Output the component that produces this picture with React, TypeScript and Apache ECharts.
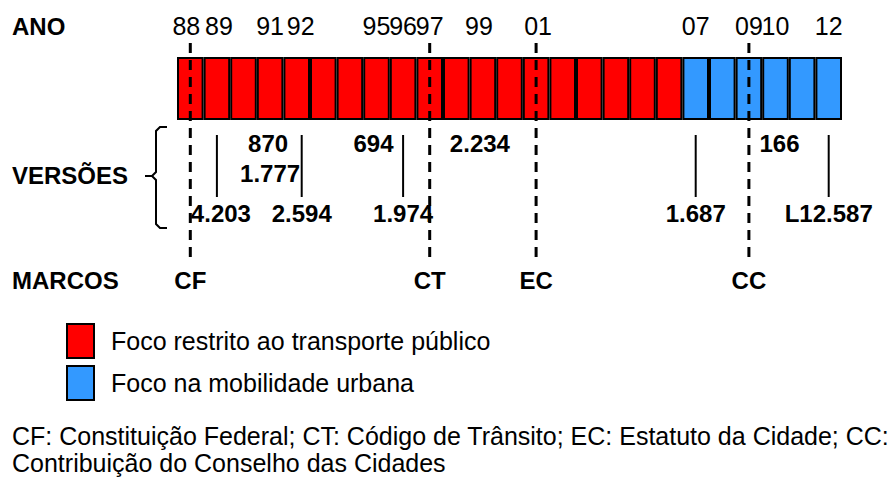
import React, { useEffect, useRef } from "react";
import * as echarts from "echarts";

// ---- Data ----
const years = [
  "1988", "1989", "1990", "1991", "1992", "1993", "1994", "1995", "1996", "1997",
  "1998", "1999", "2000", "2001", "2002", "2003", "2004", "2005", "2006",
  "2007", "2008", "2009", "2010", "2011", "2012",
];
const shownYears = ["1988", "1989", "1991", "1992", "1995", "1996", "1997", "1999", "2001", "2007", "2009", "2010", "2012"];

const transportePublicoYears = [
  "1988", "1989", "1990", "1991", "1992", "1993", "1994", "1995", "1996", "1997",
  "1998", "1999", "2000", "2001", "2002", "2003", "2004", "2005", "2006",
];
const mobilidadeUrbanaYears = ["2007", "2008", "2009", "2010", "2011", "2012"];

const seriesNames = ["Foco restrito ao transporte público", "Foco na mobilidade urbana"];

const versionYears = ["1989", "1991", "1991", "1992", "1995", "1996", "1999", "2007", "2010", "2012"];
const versionLabels = ["4.203", "870", "1.777", "2.594", "694", "1.974", "2.234", "1.687", "166", "L12.587"];
const versionTiers = ["low", "top", "mid", "low", "top", "low", "top", "low", "top", "low"];

const marcoYears = ["1988", "1997", "2001", "2009"];
const marcoLabels = ["CF", "CT", "EC", "CC"];

const footnoteLines = [
  "CF: Constituição Federal; CT: Código de Trânsito; EC: Estatuto da Cidade; CC:",
  "Contribuição do Conselho das Cidades",
];

const FONT = '"Liberation Sans", Arial, sans-serif';
const RED = "#ff0000";
const BLUE = "#3399ff";

// small visual nudges (pixels) to mimic the hand-placed labels of the original
const yearLabelNudge: Record<string, number> = { "1988": -4, "1989": 2, "1992": 4, "1999": -3, "2001": 2 };
const versionLineNudge: Record<string, number> = { "1992": 5 };
const versionTextNudge: Record<string, number> = { "4.203": 4, "870": -2, "694": -3, "2.234": -3, "166": 4 };

export default function App() {
  const ref = useRef<HTMLDivElement>(null);

  useEffect(() => {
    if (!ref.current) return;
    const chart = echarts.init(ref.current, null, { renderer: "svg" });

    const tierOffset: Record<string, number> = { top: 23, mid: 53, low: 93 };

    const option: any = {
      animation: false,
      grid: { left: 177, right: 50, top: 57, height: 63, containLabel: false },
      xAxis: {
        type: "category",
        data: years,
        position: "top",
        boundaryGap: true,
        axisLine: { show: false },
        axisTick: { show: false },
        splitLine: { show: false },
        axisLabel: {
          interval: 0,
          margin: 19,
          fontSize: 25,
          color: "#000",
          fontFamily: FONT,
          formatter: (v: string) => {
            if (!shownYears.includes(v)) return "";
            const n = yearLabelNudge[v] || 0;
            if (n < 0) return "{l|" + v.slice(2) + "}";
            if (n > 0) return "{r" + n + "|" + v.slice(2) + "}";
            return v.slice(2);
          },
          rich: {
            l: { fontSize: 25, fontFamily: FONT, color: "#000", padding: [0, 8, 0, 0] },
            r2: { fontSize: 25, fontFamily: FONT, color: "#000", padding: [0, 0, 0, 4] },
            r4: { fontSize: 25, fontFamily: FONT, color: "#000", padding: [0, 0, 0, 8] },
          },
        },
      },
      yAxis: { type: "value", min: 0, max: 1, show: false },
      legend: {
        orient: "vertical",
        left: 66,
        top: 323,
        padding: 0,
        itemWidth: 27,
        itemHeight: 34,
        itemGap: 6,
        icon: "rect",
        data: seriesNames,
        textStyle: { fontSize: 25, color: "#000", fontFamily: FONT, padding: [0, 0, 0, 12] },
        selectedMode: false,
      },
      series: [
        {
          name: seriesNames[0],
          type: "bar",
          data: years.map((y) => (transportePublicoYears.includes(y) ? 1 : "-")),
          barWidth: "100%",
          barGap: "-100%",
          itemStyle: { color: RED, borderColor: "#000", borderWidth: 2 },
          z: 2,
        },
        {
          name: seriesNames[1],
          type: "bar",
          data: years.map((y) => (mobilidadeUrbanaYears.includes(y) ? 1 : "-")),
          barWidth: "100%",
          barGap: "-100%",
          itemStyle: { color: BLUE, borderColor: "#000", borderWidth: 2 },
          z: 2,
        },
        {
          type: "custom",
          z: 4,
          data: versionYears.map((y) => ({ value: [y, 0] })),
          renderItem: (params: any, api: any) => {
            const i = params.dataIndex;
            const p = api.coord([api.value(0), 0]);
            const yr = versionYears[i];
            const label = versionLabels[i];
            const x = p[0] + (versionLineNudge[yr] || 0);
            const base = p[1];
            const tier = versionTiers[i];
            const children: any[] = [];
            if (tier === "low") {
              children.push({
                type: "line",
                shape: { x1: x, y1: base + 15, x2: x, y2: base + 77 },
                style: { stroke: "#000", lineWidth: 2 },
              });
            }
            children.push({
              type: "text",
              x: x + (versionTextNudge[label] || 0),
              y: base + tierOffset[tier],
              style: {
                text: label,
                fontSize: 24,
                fontWeight: "bold",
                fontFamily: FONT,
                fill: "#000",
                align: "center",
                verticalAlign: "middle",
              },
            });
            return { type: "group", children };
          },
        },
        {
          type: "custom",
          z: 5,
          data: marcoYears.map((y) => ({ value: [y, 1] })),
          renderItem: (params: any, api: any) => {
            const i = params.dataIndex;
            const top = api.coord([api.value(0), 1]);
            const bottom = api.coord([api.value(0), 0]);
            const x = top[0];
            return {
              type: "group",
              children: [
                {
                  type: "line",
                  shape: { x1: x, y1: top[1] - 14, x2: x, y2: bottom[1] + 140 },
                  style: { stroke: "#000", lineWidth: 3, lineDash: [10, 7] },
                },
                {
                  type: "text",
                  x,
                  y: bottom[1] + 160,
                  style: {
                    text: marcoLabels[i],
                    fontSize: 24,
                    fontWeight: "bold",
                    fontFamily: FONT,
                    fill: "#000",
                    align: "center",
                    verticalAlign: "middle",
                  },
                },
              ],
            };
          },
        },
      ],
      graphic: [
        {
          type: "text",
          x: 12,
          y: 26,
          style: { text: "ANO", fontSize: 24, fontWeight: "bold", fontFamily: FONT, fill: "#000", verticalAlign: "middle" },
        },
        {
          type: "text",
          x: 12,
          y: 175,
          style: { text: "VERSÕES", fontSize: 24, fontWeight: "bold", fontFamily: FONT, fill: "#000", verticalAlign: "middle" },
        },
        {
          type: "text",
          x: 12,
          y: 280,
          style: { text: "MARCOS", fontSize: 24, fontWeight: "bold", fontFamily: FONT, fill: "#000", verticalAlign: "middle" },
        },
        {
          type: "polyline",
          shape: {
            points: [
              [167, 127], [160, 127], [156, 131], [156, 172], [152, 176], [145, 176],
              [152, 176], [156, 180], [156, 224], [160, 228], [167, 228],
            ],
          },
          style: { stroke: "#000", lineWidth: 2, fill: null },
        },
        {
          type: "text",
          x: 12,
          y: 436,
          style: { text: footnoteLines[0], fontSize: 25, fontFamily: FONT, fill: "#000", verticalAlign: "middle" },
        },
        {
          type: "text",
          x: 12,
          y: 463,
          style: { text: footnoteLines[1], fontSize: 25, fontFamily: FONT, fill: "#000", verticalAlign: "middle" },
        },
      ],
    };

    chart.setOption(option);
    return () => chart.dispose();
  }, []);

  return (
    <div
      ref={ref}
      style={{ position: "fixed", left: 0, top: 0, width: 892, height: 477, background: "#fff" }}
    />
  );
}
